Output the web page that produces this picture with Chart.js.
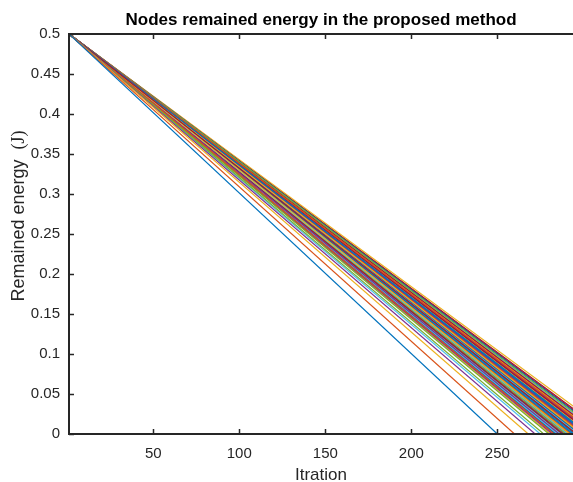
<!DOCTYPE html>
<html>
<head>
<meta charset="utf-8">
<title>Nodes remained energy</title>
<script src="https://cdn.jsdelivr.net/npm/chart.js@4.4.1/dist/chart.umd.min.js"></script>
<style>
  html, body { margin: 0; padding: 0; background: #fff; }
  #wrap { width: 573px; height: 482px; }
</style>
</head>
<body>
<div id="wrap"><canvas id="energy-chart" width="573" height="482"></canvas></div>
<script>
// --- data ---
const startIter = 1;
const startEnergy = 0.5;
// iteration at which each node's energy reaches 0 (100 nodes)
const deathIter = [
  250, 260, 268, 272, 277, 275, 296,
  303, 283, 292, 286, 280, 291, 288,
  294, 307, 299, 282, 290, 285, 305,
  298, 293, 281, 306, 288, 297, 292,
  284, 300, 290, 301, 311, 286, 309,
  302, 291, 304, 283, 296, 310, 299,
  288, 297, 285, 298, 302, 294, 284,
  295, 306, 292, 289, 300, 287, 304,
  301, 290, 308, 296, 284, 303, 294,
  293, 299, 288, 305, 297, 301, 308,
  312, 295, 302, 291, 306, 289, 300,
  297, 303, 300, 294, 298, 307, 290,
  299, 292, 309, 302, 295, 300, 313,
  306, 301, 316, 298, 304, 296, 314,
  303, 298
];
const xTicks = [50, 100, 150, 200, 250];
const yTicks = [0, 0.05, 0.1, 0.15, 0.2, 0.25, 0.3, 0.35, 0.4, 0.45, 0.5];
const xRange = [1, 294];
const yRange = [0, 0.5];

// MATLAB default colour order
const lineColors = ['#0072BD', '#D95319', '#EDB120', '#7E2F8E', '#77AC30', '#4DBEEE', '#A2142F'];

const FONT = '"Liberation Sans", Arial, Helvetica, sans-serif';
const SERIF = '"Liberation Serif", "Times New Roman", serif';
const INK = '#262626';

const datasets = deathIter.map((d, i) => ({
  label: 'Node ' + (i + 1),
  data: [{ x: startIter, y: startEnergy }, { x: d, y: 0 }],
  borderColor: lineColors[i % lineColors.length],
  borderWidth: 1.2,
  pointRadius: 0,
  fill: false,
  tension: 0
}));

// box + inward ticks + titles, matlab style
const matlabAxes = {
  id: 'matlabAxes',
  afterDraw(chart) {
    const { ctx, chartArea: a, scales: { x, y } } = chart;
    ctx.save();
    ctx.strokeStyle = INK;
    ctx.lineWidth = 2;
    ctx.beginPath();
    ctx.moveTo(a.left, a.top);
    ctx.lineTo(a.right + 2, a.top);
    ctx.moveTo(a.left, a.top - 1);
    ctx.lineTo(a.left, a.bottom + 1);
    ctx.moveTo(a.left, a.bottom);
    ctx.lineTo(a.right + 2, a.bottom);
    ctx.stroke();

    ctx.lineWidth = 1.5;
    ctx.beginPath();
    xTicks.forEach(v => {
      const px = Math.round(x.getPixelForValue(v)) + 0.5;
      ctx.moveTo(px, a.bottom);
      ctx.lineTo(px, a.bottom - 5);
      ctx.moveTo(px, a.top);
      ctx.lineTo(px, a.top + 5);
    });
    yTicks.forEach(v => {
      const py = Math.round(y.getPixelForValue(v)) + 0.5;
      ctx.moveTo(a.left, py);
      ctx.lineTo(a.left + 5, py);
    });
    ctx.stroke();

    // title
    ctx.fillStyle = '#000';
    ctx.font = 'bold 17px ' + FONT;
    ctx.textAlign = 'center';
    ctx.textBaseline = 'middle';
    ctx.fillText('Nodes remained energy in the proposed method', (a.left + a.right) / 2, 20);

    // y label: plain part + "(J)" in serif
    const part1 = 'Remained energy  ';
    const part2 = '(J)';
    ctx.font = '18px ' + FONT;
    const w1 = ctx.measureText(part1).width;
    ctx.font = '18px ' + SERIF;
    const w2 = ctx.measureText(part2).width;
    ctx.translate(19, 216);
    ctx.rotate(-Math.PI / 2);
    ctx.fillStyle = INK;
    ctx.textAlign = 'left';
    ctx.font = '18px ' + FONT;
    ctx.fillText(part1, -(w1 + w2) / 2, 0);
    ctx.font = '18px ' + SERIF;
    ctx.fillText(part2, -(w1 + w2) / 2 + w1, 0);
    ctx.restore();
  }
};

const chart = new Chart(document.getElementById('energy-chart'), {
  type: 'line',
  data: { datasets },
  options: {
    responsive: false,
    animation: false,
    events: [],
    layout: { padding: { top: 34, right: 0, bottom: 0, left: 0 } },
    plugins: {
      legend: { display: false },
      tooltip: { enabled: false },
      title: { display: false }
    },
    scales: {
      x: {
        type: 'linear',
        min: xRange[0],
        max: xRange[1],
        afterBuildTicks: s => { s.ticks = xTicks.map(v => ({ value: v })); },
        afterFit: s => { s.height = 48; },
        grid: { display: false, drawTicks: false },
        border: { display: false },
        ticks: { color: INK, padding: 11, font: { family: FONT, size: 15 }, maxRotation: 0, callback: v => String(v) },
        title: { display: true, text: 'Itration', color: INK, padding: { top: 0, bottom: 0 }, font: { family: FONT, size: 17, lineHeight: 0.8 } }
      },
      y: {
        type: 'linear',
        min: yRange[0],
        max: yRange[1],
        afterBuildTicks: s => { s.ticks = yTicks.map(v => ({ value: v })); },
        afterFit: s => { s.width = 69; },
        grid: { display: false, drawTicks: false },
        border: { display: false },
        ticks: { color: INK, padding: 9, font: { family: FONT, size: 15 }, callback: v => String(v) },
        title: { display: false }
      }
    }
  },
  plugins: [matlabAxes]
});
</script>
</body>
</html>
